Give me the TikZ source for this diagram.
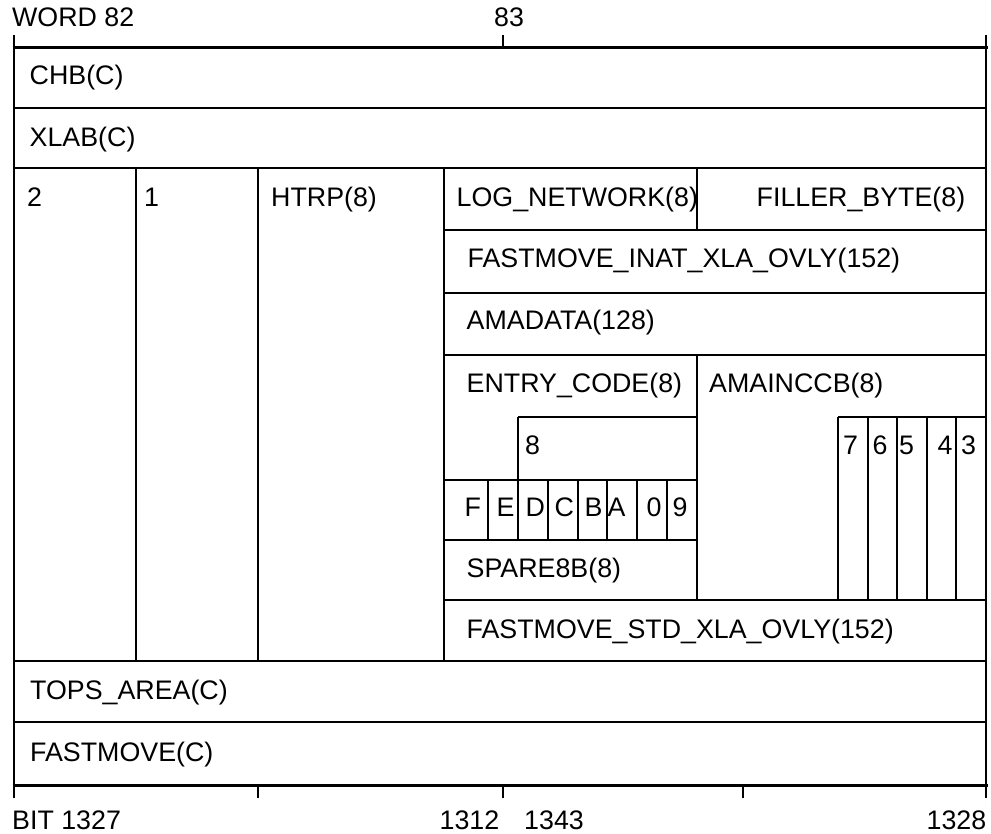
\documentclass[tikz,border=0pt]{standalone}
\usepackage{fontspec}
\setmainfont{Liberation Sans}
\usetikzlibrary{positioning}

\begin{document}
\begin{tikzpicture}[x=1pt, y=-1pt,
    field/.style={anchor=base west, inner sep=0pt, font=\fontsize{26.8}{30}\selectfont},
    rfield/.style={field, anchor=base east},
    rule/.style={line width=2pt},
    edge/.style={line width=3pt}]
    \useasboundingbox (0,0) rectangle (991,834);

    % Word scale (top)
    \draw[edge] (12.5,48) -- (987.5,48);
    \foreach \x in {14, 503, 986} {
        \draw[rule] (\x,35) -- (\x,48);
    }
    \node[field] (word) at (12,26.5) {WORD 82};
    \node[field] (wnext) at (494,26.5) {83};

    % Frame and full-width rows
    \draw[rule] (14,48) -- (14,785);
    \draw[rule] (986,48) -- (986,785);
    \foreach \y in {108, 168, 661, 722} {
        \draw[rule] (14,\y) -- (986,\y);
    }
    \draw[edge] (12.5,785) -- (987.5,785);

    % Columns 2, 1, HTRP
    \foreach \x in {136, 258, 444} {
        \draw[rule] (\x,168) -- (\x,661);
    }

    % Right half rows
    \foreach \y in {230, 293, 355, 600} {
        \draw[rule] (444,\y) -- (986,\y);
    }
    \draw[rule] (697,168) -- (697,230);
    \draw[rule] (697,355) -- (697,600);

    % ENTRY_CODE bits
    \draw[rule] (518,417) -- (697,417);
    \draw[rule] (518,417) -- (518,480);
    \draw[rule] (444,480) -- (697,480);
    \draw[rule] (444,540) -- (697,540);
    \foreach \x in {488, 517.9, 547.7, 577.6, 607.4, 637.3, 667.2} {
        \draw[rule] (\x,480) -- (\x,540);
    }

    % AMAINCCB bits
    \draw[rule] (838,417) -- (986,417);
    \foreach \x in {838, 867.6, 897.2, 926.8, 956.4} {
        \draw[rule] (\x,417) -- (\x,600);
    }

    % Bit scale (bottom)
    \foreach \x in {14, 258, 503, 743, 986} {
        \draw[rule] (\x,785) -- (\x,798);
    }
    \node[field] (bitlo) at (12,829.5) {BIT 1327};
    \node[rfield] (bitmid) at (499.5,829.5) {1312};
    \node[field] (bitnext) at (524,829.5) {1343};
    \node[rfield] (bithi) at (986.5,829.5) {1328};

    % Field labels
    \node[field] (chb) at (29.5,84.5) {CHB(C)};
    \node[field] (xlab) at (29.5,146.5) {XLAB(C)};
    \node[field] (flag2) at (27,206.5) {2};
    \node[field] (flag1) at (144,206.5) {1};
    \node[field] (htrp) at (271,206.5) {HTRP(8)};
    \node[field] (lognet) at (456.5,206.5) {LOG\_NETWORK(8)};
    \node[field] (filler) at (756.5,206.5) {FILLER\_BYTE(8)};
    \node[field] (inat) at (467.5,268) {FASTMOVE\_INAT\_XLA\_OVLY(152)};
    \node[field] (amadata) at (466.5,330) {AMADATA(128)};
    \node[field] (entry) at (466.5,392) {ENTRY\_CODE(8)};
    \node[field] (amainccb) at (709,392) {AMAINCCB(8)};
    \node[field] (ebit8) at (525,454.5) {8};
    \foreach \x/\label in {843/7, 872.5/6, 899/5, 937.5/4, 961/3} {
        \node[field] (abit\label) at (\x,454.5) {\label};
    }
    \foreach \x/\label in {464.5/F, 496.5/E, 525.5/D, 554.5/C, 584.5/B, 607.5/A, 646.5/0, 672.5/9} {
        \node[field] (ebit\label) at (\x,516.5) {\label};
    }
    \node[field] (spare) at (466.5,577) {SPARE8B(8)};
    \node[field] (stdovly) at (466.5,638.5) {FASTMOVE\_STD\_XLA\_OVLY(152)};
    \node[field] (tops) at (30,699.5) {TOPS\_AREA(C)};
    \node[field] (fastmove) at (30,761) {FASTMOVE(C)};

\end{tikzpicture}
\end{document}
